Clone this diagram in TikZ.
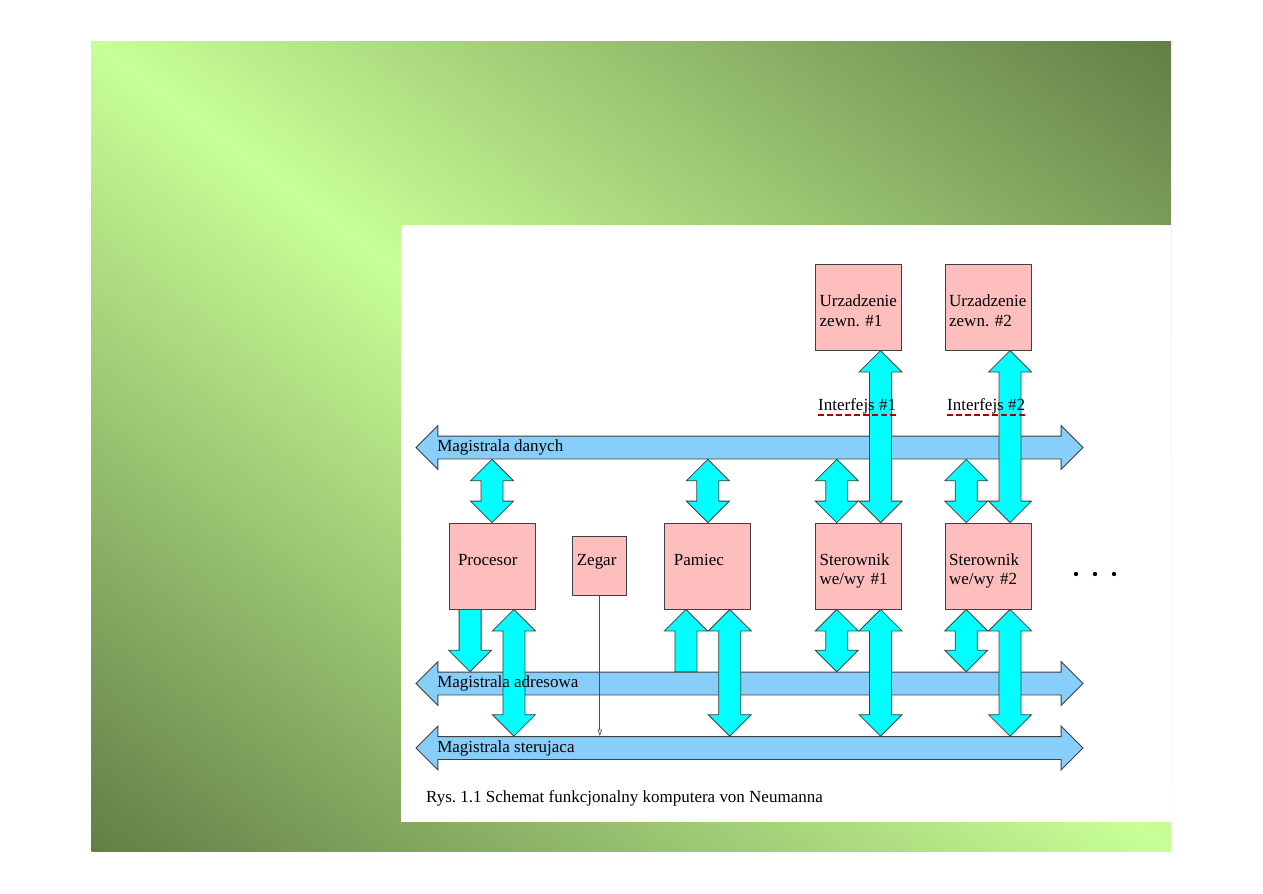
\documentclass[tikz,border=0pt]{standalone}
\usepackage{fontspec}
\setmainfont{Liberation Serif}
\usepackage{xcolor}
\usepackage{tikz}
\usetikzlibrary{arrows.meta,positioning,shapes.arrows,calc}
\definecolor{slidelight}{RGB}{200,255,150}
\definecolor{slidedark}{RGB}{98,126,70}
\definecolor{boxpink}{RGB}{255,190,190}
\definecolor{busblue}{RGB}{135,206,250}
\definecolor{portcyan}{RGB}{0,255,255}
\definecolor{ifred}{RGB}{170,0,0}
\newcommand{\shafthalf}{0.33cm}
\newcommand{\headhalf}{0.645cm}
\newcommand{\headlen}{0.645cm}

\begin{document}
\frenchspacing
\begin{tikzpicture}[x=0.03cm, y=-0.03cm,
  font=\fontsize{14.5}{17}\selectfont,
  unit/.style={draw=black!75, line width=0.7pt, fill=boxpink, align=left,
    inner xsep=0.12cm, text width=2.34cm, minimum height=2.58cm},
  padded/.style={inner xsep=0.27cm, text width=2.04cm},
  oneline/.style={text height=0.3cm, text depth=0.36cm},
  twoline/.style={text height=0.65cm, text depth=0.71cm},
  bus/.style={shape=double arrow, draw=black!75, line width=0.7pt, fill=busblue,
    double arrow head extend=0.315cm, minimum height=20.01cm, minimum width=1.29cm,
    inner xsep=0pt, inner ysep=0.33cm, text height=0pt, text depth=0pt},
  buslabel/.style={inner sep=0pt},
  link/.style={draw=black!75, line width=0.7pt, fill=portcyan},
  both/.style={link, to path={let \p1=(\tikztostart), \p2=(\tikztotarget), \n1={(\y2>\y1)*2-1} in
    (\x1,\y1) -- ({\x1+\headhalf},{\y1+(\n1)*\headlen}) -- ({\x1+\shafthalf},{\y1+(\n1)*\headlen})
    -- ({\x1+\shafthalf},{\y2-(\n1)*\headlen}) -- ({\x1+\headhalf},{\y2-(\n1)*\headlen}) -- (\x1,\y2)
    -- ({\x1-\headhalf},{\y2-(\n1)*\headlen}) -- ({\x1-\shafthalf},{\y2-(\n1)*\headlen})
    -- ({\x1-\shafthalf},{\y1+(\n1)*\headlen}) -- ({\x1-\headhalf},{\y1+(\n1)*\headlen}) -- cycle}},
  one/.style={link, to path={let \p1=(\tikztostart), \p2=(\tikztotarget), \n1={(\y2>\y1)*2-1} in
    ({\x1-\shafthalf},\y1) -- ({\x1+\shafthalf},\y1) -- ({\x1+\shafthalf},{\y2-(\n1)*\headlen})
    -- ({\x1+\headhalf},{\y2-(\n1)*\headlen}) -- (\x1,\y2) -- ({\x1-\headhalf},{\y2-(\n1)*\headlen})
    -- ({\x1-\shafthalf},{\y2-(\n1)*\headlen}) -- cycle}},
  clockline/.style={draw=black!70, line width=0.6pt, -{Triangle[open,length=0.2cm,width=0.13cm]}},
  ifline/.style={draw=ifred, line width=1.2pt, dash pattern=on 0.18cm off 0.09cm},
  iflabel/.style={inner xsep=0pt, inner ysep=1pt, anchor=base west}
]
\useasboundingbox (0,0) rectangle (1263,893);
\fill[white] (0,0) rectangle (1263,893);
% slide background
\begin{scope}
  \clip (91,41) rectangle (1171,851);
  \shade[top color=slidedark, bottom color=slidedark, middle color=slidelight,
    transform canvas={rotate around={-36.87:(631,446)}}]
    (-69,-202) rectangle (1331,1094);
\end{scope}
\fill[white] (401,225) rectangle (1171,822);

% buses
\node[bus] (dbus) at (749.5,447.5) {};
\node[bus] (abus) at (749.5,683.5) {};
\node[bus] (cbus) at (749.5,748) {};

% units
\node[unit, padded, oneline] (proc) at (492,566) {Procesor};
\node[unit, oneline, text width=1.38cm, minimum height=1.77cm, right=1.11cm of proc] (zegar) {Zegar};
\node[unit, padded, oneline, right=3.87cm of proc] (mem) {Pamiec};
\node[unit, twoline, right=1.92cm of mem] (ster1) {Sterownik\\we/wy \#1};
\node[unit, twoline, right=1.28cm of ster1] (ster2) {Sterownik\\we/wy \#2};
\node[unit, twoline, above=5.16cm of ster1] (dev1) {Urzadzenie\\zewn. \#1};
\node[unit, twoline, above=5.16cm of ster2] (dev2) {Urzadzenie\\zewn. \#2};

% data bus side
\draw[both] (proc.north) to (proc.north |- dbus.south);
\draw[both] (mem.north) to (mem.north |- dbus.south);
\draw[both] ([xshift=\headhalf]ster1.north west) to ([xshift=\headhalf]ster1.north west |- dbus.south);
\draw[both] ([xshift=\headhalf]ster2.north west) to ([xshift=\headhalf]ster2.north west |- dbus.south);
\draw[both] ([xshift=-\headhalf]ster1.north east) to ([xshift=-\headhalf]dev1.south east);
\draw[both] ([xshift=-\headhalf]ster2.north east) to ([xshift=-\headhalf]dev2.south east);

% address and control bus side
\draw[one] ([xshift=\headhalf]proc.south west) to ([xshift=\headhalf]proc.south west |- abus.north);
\draw[both] ([xshift=-\headhalf]proc.south east) to ([xshift=-\headhalf]proc.south east |- cbus.north);
\draw[clockline] (zegar.south) -- (zegar.south |- cbus.north);
\draw[one] ([xshift=\headhalf]mem.south west |- abus.north) to ([xshift=\headhalf]mem.south west);
\draw[both] ([xshift=-\headhalf]mem.south east) to ([xshift=-\headhalf]mem.south east |- cbus.north);
\draw[both] ([xshift=\headhalf]ster1.south west) to ([xshift=\headhalf]ster1.south west |- abus.north);
\draw[both] ([xshift=-\headhalf]ster1.south east) to ([xshift=-\headhalf]ster1.south east |- cbus.north);
\draw[both] ([xshift=\headhalf]ster2.south west) to ([xshift=\headhalf]ster2.south west |- abus.north);
\draw[both] ([xshift=-\headhalf]ster2.south east) to ([xshift=-\headhalf]ster2.south east |- cbus.north);

% labels
\node[buslabel, right=0.65cm of dbus.west] (dlabel) {Magistrala danych};
\node[buslabel, right=0.65cm of abus.west] (alabel) {Magistrala adresowa};
\node[buslabel, right=0.65cm of cbus.west] (clabel) {Magistrala sterujaca};
\node[iflabel] (if1) at (818,410) {Interfejs \#1};
\node[iflabel] (if2) at (947,410) {Interfejs \#2};
\draw[ifline] (if1.south west) -- (if1.south east);
\draw[ifline] (if2.south west) -- (if2.south east);
\foreach \dx in {0,19,38}
  \fill (1076+\dx,574) circle (0.065cm);
\node[anchor=base west, inner sep=0pt] (caption) at (426,802) {Rys. 1.1 Schemat funkcjonalny komputera von Neumanna};
\end{tikzpicture}
\end{document}
